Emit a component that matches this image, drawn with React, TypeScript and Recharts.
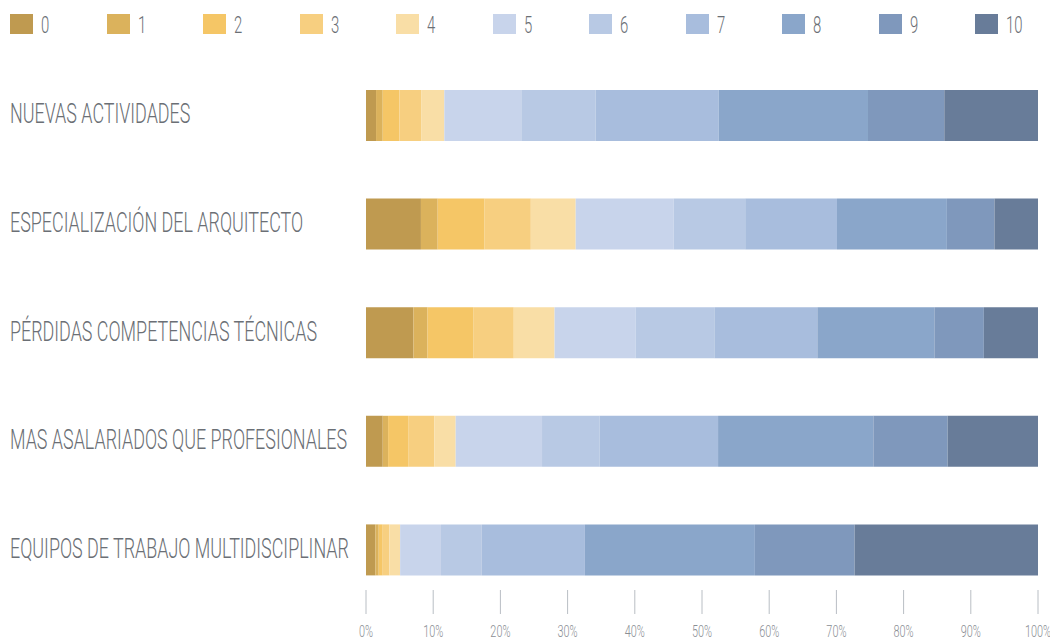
import { Bar, BarChart, Legend, XAxis, YAxis } from "recharts";

const categorias = [
  "NUEVAS ACTIVIDADES",
  "ESPECIALIZACIÓN DEL ARQUITECTO",
  "PÉRDIDAS COMPETENCIAS TÉCNICAS",
  "MAS ASALARIADOS QUE PROFESIONALES",
  "EQUIPOS DE TRABAJO MULTIDISCIPLINAR",
];

const notas = ["0", "1", "2", "3", "4", "5", "6", "7", "8", "9", "10"];

// porcentaje de respuestas por nota, en el orden de categorias
const nota0 = [1.5, 8.2, 7.1, 2.5, 1.4];
const nota1 = [1.0, 2.5, 2.1, 0.8, 0.5];
const nota2 = [2.5, 7.0, 6.9, 3.0, 0.6];
const nota3 = [3.3, 6.9, 6.0, 3.9, 1.0];
const nota4 = [3.4, 6.7, 6.1, 3.2, 1.6];
const nota5 = [11.5, 14.6, 12.1, 12.9, 6.1];
const nota6 = [11.1, 10.7, 11.8, 8.6, 6.1];
const nota7 = [18.4, 13.7, 15.4, 17.7, 15.4];
const nota8 = [22.3, 16.4, 17.5, 23.2, 25.4];
const nota9 = [11.4, 7.1, 7.4, 11.1, 14.9];
const nota10 = [14.0, 6.5, 8.1, 13.5, 27.4];

const ticksX = [0, 0.1, 0.2, 0.3, 0.4, 0.5, 0.6, 0.7, 0.8, 0.9, 1];

const series = [nota0, nota1, nota2, nota3, nota4, nota5, nota6, nota7, nota8, nota9, nota10];

const colores = [
  "#BF9A50",
  "#DBB25C",
  "#F5C666",
  "#F7CF80",
  "#F9DEA6",
  "#C8D4EB",
  "#B8C9E4",
  "#A8BDDD",
  "#8AA6CA",
  "#7F98BC",
  "#687C99",
];

const data = categorias.map((cat, i) => {
  const row: Record<string, string | number> = { cat };
  notas.forEach((n, j) => {
    row["n" + n] = series[j][i];
  });
  return row;
});

const FONT = "Roboto, 'DejaVu Sans', sans-serif";

function LeyendaNotas() {
  return (
    <div style={{ display: "flex", height: 50, paddingLeft: 10, fontFamily: FONT }}>
      {notas.map((n, i) => (
        <div
          key={n}
          style={{ width: 96.5, flexShrink: 0, display: "flex", alignItems: "flex-start", paddingTop: 3 }}
        >
          <span style={{ width: 23, height: 20, background: colores[i], display: "inline-block" }} />
          <span
            style={{
              marginLeft: 8,
              fontSize: 24,
              lineHeight: "22px",
              color: "#6b6f75",
              fontWeight: 300,
              display: "inline-block",
              transform: "scaleX(0.62)",
              transformOrigin: "left center",
            }}
          >
            {n}
          </span>
        </div>
      ))}
    </div>
  );
}

function TickCategoria(props: any) {
  const { y, payload } = props;
  return (
    <text
      transform={`translate(10,${y + 8}) scale(0.64,1)`}
      fill="#6b6f75"
      fontSize={28}
      fontWeight={300}
      fontFamily={FONT}
      textAnchor="start"
    >
      {payload.value}
    </text>
  );
}

function TickPorcentaje(props: any) {
  const { x, y, payload } = props;
  return (
    <g>
      <line x1={x} x2={x} y1={y - 14} y2={y + 10} stroke="#b9bec4" strokeWidth={1} />
      <text
        transform={`translate(${x},${y + 33}) scale(0.68,1)`}
        fill="#8a8e94"
        fontSize={16}
        fontWeight={300}
        fontFamily={FONT}
        textAnchor="middle"
      >
        {Math.round(payload.value * 100) + "%"}
      </text>
    </g>
  );
}

export default function App() {
  return (
    <div style={{ position: "absolute", left: 0, top: 0, background: "#fff" }}>
      <BarChart
        width={1050}
        height={640}
        data={data}
        layout="vertical"
        stackOffset="expand"
        barSize={51}
        margin={{ top: 11, right: 12, left: 0, bottom: 0 }}
      >
        <Legend verticalAlign="top" align="left" content={<LeyendaNotas />} />
        <XAxis
          type="number"
          domain={[0, 1]}
          ticks={ticksX}
          axisLine={false}
          tickLine={false}
          tickSize={0}
          tickMargin={0}
          height={36}
          tick={<TickPorcentaje />}
        />
        <YAxis
          type="category"
          dataKey="cat"
          width={366}
          axisLine={false}
          tickLine={false}
          tick={<TickCategoria />}
        />
        {notas.map((n, i) => (
          <Bar
            key={n}
            dataKey={"n" + n}
            stackId="a"
            fill={colores[i]}
            isAnimationActive={false}
          />
        ))}
      </BarChart>
    </div>
  );
}
